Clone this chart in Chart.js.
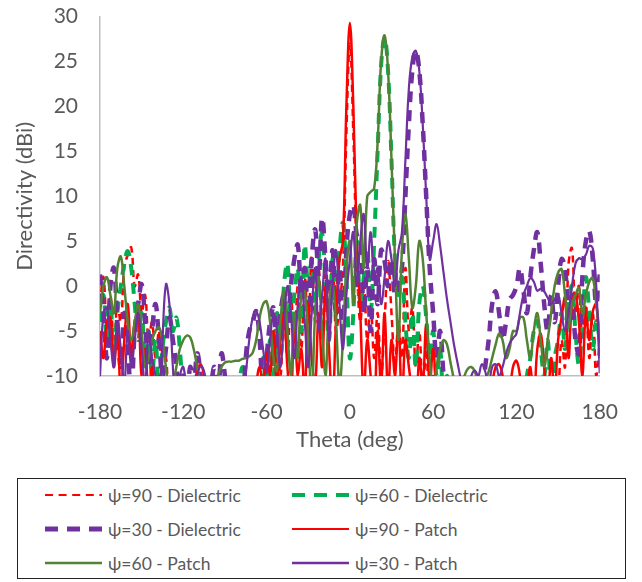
<!DOCTYPE html>
<html>
<head>
<meta charset="utf-8">
<script src="https://cdn.jsdelivr.net/npm/chart.js@4.4.1/dist/chart.umd.min.js"></script>
<style>
  body { margin: 0; background: #fff; font-family: Lato, "DejaVu Sans", sans-serif; overflow: hidden; }
  #wrap { position: relative; width: 642px; height: 582px; overflow: hidden; }
  #chart { position: absolute; left: 0; top: -18px; }
  #legend { position: absolute; left: 17px; top: 478px; width: 607px; height: 99px; border: 1.5px solid #222; }
  .item { position: absolute; height: 24px; display: flex; align-items: center; color: #595959; font-size: 17.5px; white-space: nowrap; }
  .item svg { margin-right: 6px; }
</style>
</head>
<body>
<div id="wrap">
  <canvas id="chart" width="642" height="488"></canvas>
  <div id="legend"></div>
</div>
<script>
// theta grid (deg), 2.5 deg steps
const theta = [
  -180, -177.5, -175, -172.5, -170, -167.5, -165, -162.5, -160, -157.5,
  -155, -152.5, -150, -147.5, -145, -142.5, -140, -137.5, -135, -132.5,
  -130, -127.5, -125, -122.5, -120, -117.5, -115, -112.5, -110, -107.5,
  -105, -102.5, -100, -97.5, -95, -92.5, -90, -87.5, -85, -82.5,
  -80, -77.5, -75, -72.5, -70, -67.5, -65, -62.5, -60, -57.5,
  -55, -52.5, -50, -47.5, -45, -42.5, -40, -37.5, -35, -32.5,
  -30, -27.5, -25, -22.5, -20, -17.5, -15, -12.5, -10, -7.5,
  -5, -2.5, 0, 2.5, 5, 7.5, 10, 12.5, 15, 17.5,
  20, 22.5, 25, 27.5, 30, 32.5, 35, 37.5, 40, 42.5,
  45, 47.5, 50, 52.5, 55, 57.5, 60, 62.5, 65, 67.5,
  70, 72.5, 75, 77.5, 80, 82.5, 85, 87.5, 90, 92.5,
  95, 97.5, 100, 102.5, 105, 107.5, 110, 112.5, 115, 117.5,
  120, 122.5, 125, 127.5, 130, 132.5, 135, 137.5, 140, 142.5,
  145, 147.5, 150, 152.5, 155, 157.5, 160, 162.5, 165, 167.5,
  170, 172.5, 175, 177.5, 180
];

// directivity (dBi)
const dielectric90 = [
  -2, 1, -5, -1, -7, -2, -4, 2, 3.5, 4.3,
  0, 1.3, -3, -1, -6, -4, -8, -5, -12, -8,
  -14, -12, -15, -20, -20, -20, -20, -20, -20, -20,
  -20, -20, -20, -20, -20, -20, -20, -20, -20, -20,
  -20, -20, -20, -20, -18, -15, -13, -14, -12, -9,
  -14, -6, -10, -3, -8, -1, -6, 0, -7, 1,
  -5, 3.5, -4, 2, -6, 3, -3, 2.8, -5, -2,
  2, 17, 27, 17, 3, -4, 1, -6, -2, -8,
  -3, -10, -4, 2.8, -3, -9, -4, -8, 2, -5,
  -2.4, -9, -5, -12, -7, -14, -10, -15, -18, -20,
  -20, -20, -20, -20, -20, -20, -20, -20, -20, -20,
  -20, -20, -20, -20, -20, -20, -20, -20, -20, -20,
  -20, -20, -20, -20, -20, -20, -18, -16, -14, -16,
  -15, -14, -12, -6, -9, 2.4, 4.2, -3, 0, -6,
  -2, -8, -3, -10, -6
];
const dielectric60 = [
  -4, -1, -6, -2, -8, -3, 0, 2.5, 3.9, 2,
  -2, -6, -3, -8, -5, -10, -6, -12, -7, -4,
  -2.4, -5, -3.5, -7, -12, -15, -18, -20, -20, -20,
  -20, -20, -20, -20, -20, -20, -20, -20, -20, -20,
  -12, -9, -12, -15, -14, -10, -14, -8, -12, -6,
  -10, -3, -8, 0, 2.5, -4, -1, 2, -5, 4.6,
  0, 2.8, -3, 3, 5.9, 0, -6, 3, -2, 4,
  7, 1, -8, -3, 5, -2, 1, 4.2, -2.8, 5,
  15, 24.5, 27.7, 24, 14, 3, -1, 1, -4, -8,
  -3, -9, -2, 0, -3.5, -8, -5, -10, -7, -13,
  -10, -15, -18, -20, -20, -20, -20, -20, -20, -20,
  -20, -20, -20, -20, -20, -20, -20, -20, -20, -20,
  -20, -20, -14, -10, -8, -5, -3.9, -7, -10, -6,
  -12, -8, -6, -3, -7, -2, 0, -5, -8.7, -4,
  1, -3, -7, -3.9, -6
];
const dielectric30 = [
  1.3, -3, -8, 0, 2, -4, -9, -3, -7, -12,
  -5, -2, 0.2, -4, -9, -5, -2, -6, -10, -7,
  -3.5, -6, -9, -14, -10, -13, -9, -11, -7.5, -10,
  -15, -14, -11, -9, -12, -7.5, -10, -14, -16, -13,
  -11, -14, -8, -5, -4, -2.8, -6, -12, -8, -4,
  -2.4, -7, -3, -1, -5, 0, 3, 4.6, -1, 2,
  -4, 3, 6.3, 1, 7.6, 3, -2, 4, -3, 2,
  -5, 4, 8, 9, 5.7, 5, -3, 2, -5, 3,
  -2, 4, 2.8, 0, 3, -1, 0, 2, 10, 18,
  24, 26.2, 24, 18, 10, 2, -3, -8, -5, -10,
  -14, -15, -15, -14, -16, -15, -13, -11, -14, -16,
  -13, -9, -6, -2, -0.6, -3, -6, -4, -1.5, -1,
  0, 2, -0.5, -3, 1, 4, 6, 2.5, -2, -5,
  -1, -4, 0, 3, 2, -3, -1, -6, -7.5, 1,
  5, 6.1, 3, -2, 1.3
];
const patch90 = [
  -5, -8, -4, -3.5, -9, -5, -12, -6, -2, -8,
  -4, -3, -10, -7, -12, -9, -14, -10, -15, -12,
  -16, -13, -17, -14, -18, -15, -13, -11, -9.5, -8.7,
  -10, -13, -17, -18, -16, -20, -20, -20, -20, -20,
  -20, -20, -18, -14, -14, -11, -9, -11, -7.5, -10,
  -5, -11, -6, -3, -9, -13, -4, -10, -7, -12,
  -2, -8, -11, -3, -9, 0, -7, -13, -4, 3,
  5, 20, 29.3, 20, 5, -3, -12, -6, -10, -14,
  -5, -11, -3, -12, -6, -10, -4, -13, -6, -9,
  -12, -15, -8, -11, -4.2, -11, -7, -12, -14, -17,
  -20, -20, -20, -20, -20, -20, -20, -20, -20, -20,
  -20, -17, -14, -11, -9, -8.7, -10, -14, -12, -9,
  -8.3, -10, -15, -12, -9, -13, -7, -5.3, -9, -13,
  -8, -12, -6, -3.5, -1.3, -8, -2, -0.9, -4, -10,
  -3, -6, -2.8, -2, -8
];
const patch60 = [
  -3, 0, 1, -1, -3, 2, 3.3, 0, -4, -6,
  -4, -2, -5, -9, -8, -6, -5, -4.6, -6, -9,
  -12, -11, -9, -7, -6, -5.5, -5.7, -7, -9, -11,
  -14, -12, -16, -12, -10, -9, -8.5, -8.4, -8.4, -8.3,
  -8.3, -8.1, -8, -7.8, -7.4, -6, -3.5, -2, -1.7, -4,
  -8, -9.4, -4, -0.5, -5, -10, -3, -8, -1, -0.6,
  -6, -12, -3, 1, -5, -10, -2, 0.2, -4, -11,
  -6, 2, 5, -2, 7, 9, 2, 10, 10.5, 10.9,
  16, 25, 27.9, 24, 14, 3, -6, 4, 8, 3,
  -2.4, 0, 5, 3, -3, -8, -12, -9, -7, -6,
  -6.5, -8.5, -10.5, -13, -12, -10, -9.2, -9, -9.5, -11,
  -12, -10.5, -9.5, -8, -6.5, -5.3, -6, -8, -7, -5,
  -5, -3.5, -3.5, -6, -8, -5, -3, -6, -9, -6,
  -3, 0, 1.5, 1.9, -1, -4.6, -2, -1, -0.2, -3,
  -1, 0.5, 0.9, -2, -5
];
const patch30 = [
  -10, -3, -2.4, -6, -9, -4, -7, -11, -5, -9,
  -6, -3, -7, -11, -5, -8, -10, -14, -6, 0.2,
  -2, -9, -14, -10, -9, -12, -15, -12, -10, -8.9,
  -9.5, -12, -16, -14, -16, -14, -12, -13, -15, -13,
  -11, -12, -9.7, -6, -3.5, -2.8, -4, -7, -9.4, -6,
  -3, -5, -9, -4, 0, -3, -8, -2, 1, -4,
  -9, -3, 2, -5, -1, 3, -6, 0, 4, -2,
  -7, -1, 3, 6, 0, 5, 8, 2, 6, 1,
  2, -2, 1, 5, 3, 0, 4, 6, 14, 22,
  25.5, 26.2, 24, 18, 10, 3, 5, 6.9, 4.5, 1.5,
  -1.5, -4, -6.5, -8.5, -10.5, -13, -12, -10, -9.4, -10,
  -8.7, -9.5, -11, -9, -8.7, -10, -9, -7.5, -6.4, -5.8,
  -5.3, -3, -1, 0, 0.9, 0.5, -0.5, -0.3, -0.6, -1.3,
  -2, -1.5, -0.9, -3, -5, -3, 0, 2.5, 3.1, 3,
  3.5, 4.5, 4.2, 0, -9.7
];

const labels = ['ψ=90 - Dielectric', 'ψ=60 - Dielectric', 'ψ=30 - Dielectric',
                'ψ=90 - Patch', 'ψ=60 - Patch', 'ψ=30 - Patch'];
const values = [dielectric90, dielectric60, dielectric30, patch90, patch60, patch30];
const colors = ['#ff0000', '#00b050', '#7030a0', '#ff0000', '#548235', '#7030a0'];
const widths = [2.5, 4, 4.5, 2.5, 2.5, 2.2];
const dashes = [[7, 5], [11, 8], [11, 8], [], [], []];
const legendWidths = [2, 4, 5, 2.2, 2.5, 2.5];
const legendDashes = ['8 5.6', '13 9', '13 9', '', '', ''];

const tickFont = { family: 'Lato, "DejaVu Sans", sans-serif', size: 21 };
const titleFont = { family: 'Lato, "DejaVu Sans", sans-serif', size: 22 };

const datasets = labels.map((label, i) => ({
    label: label,
    data: theta.map((t, j) => ({ x: t, y: values[i][j] })),
    borderColor: colors[i],
    borderWidth: widths[i],
    borderDash: dashes[i],
    pointRadius: 0,
    tension: 0.4,
    fill: false,
    order: labels.length - i
}));

new Chart(document.getElementById('chart'), {
    type: 'line',
    data: { datasets: datasets },
    options: {
        responsive: false,
        animation: false,
        devicePixelRatio: 1,
        layout: { padding: { top: 0, right: 40, left: 0, bottom: 0 } },
        plugins: {
            legend: { display: false },
            tooltip: { enabled: false }
        },
        scales: {
            x: {
                type: 'linear',
                min: -180,
                max: 180,
                ticks: { stepSize: 60, padding: 24, color: '#595959', font: tickFont, maxRotation: 0 },
                grid: { display: false, drawTicks: false },
                border: { color: '#bfbfbf', width: 1.5 },
                title: { display: true, text: 'Theta (deg)', color: '#595959', font: titleFont, padding: { top: 0, bottom: 17 } },
                afterFit: s => { s.height = 94; }
            },
            y: {
                min: -10,
                max: 30,
                ticks: { stepSize: 5, padding: 22, color: '#595959', font: tickFont },
                grid: { display: false, drawTicks: false },
                border: { color: '#bfbfbf', width: 1.5 },
                title: { display: true, text: 'Directivity (dBi)', color: '#595959', font: titleFont, padding: { top: 12, bottom: 0 } },
                afterFit: s => { s.width = 100; }
            }
        }
    }
});

// legend box, two columns
const legend = document.getElementById('legend');
const colLeft = [27, 274];
const rowTop = [4, 38, 72];
labels.forEach((label, i) => {
    const item = document.createElement('div');
    item.className = 'item';
    item.style.left = colLeft[i % 2] + 'px';
    item.style.top = rowTop[Math.floor(i / 2)] + 'px';
    item.innerHTML = `<svg width="57" height="10"><line x1="0" y1="5" x2="57" y2="5" stroke="${colors[i]}" stroke-width="${legendWidths[i]}" stroke-dasharray="${legendDashes[i]}"/></svg><span>${label}</span>`;
    legend.appendChild(item);
});
</script>
</body>
</html>
